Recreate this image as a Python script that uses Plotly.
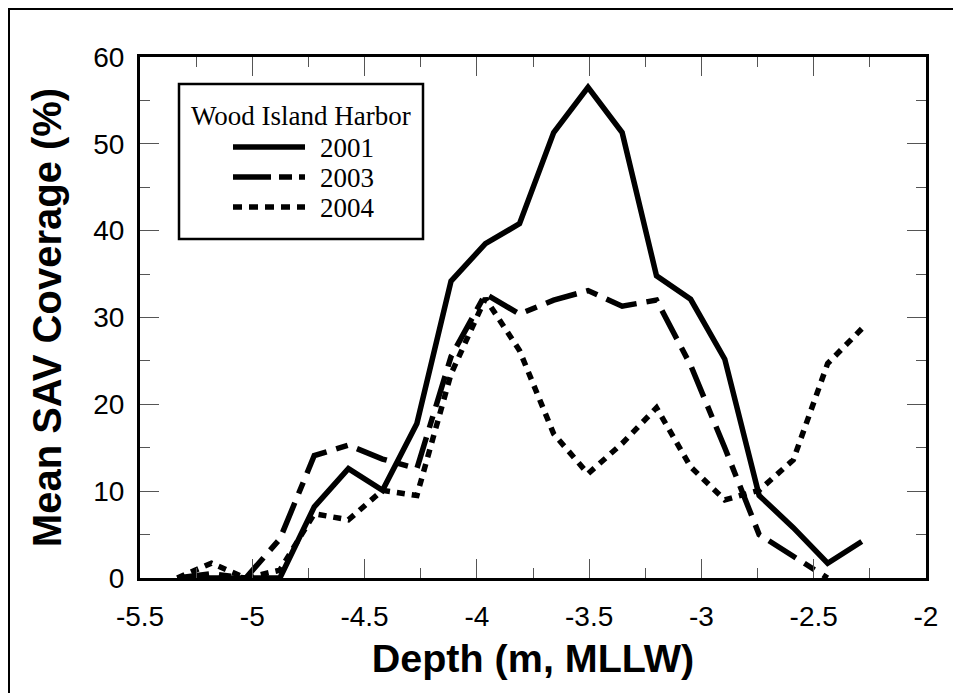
import plotly.graph_objects as go

# Depth (m, MLLW) — half-foot survey bins
depth_m = [-5.334, -5.182, -5.029, -4.877, -4.724, -4.572, -4.420, -4.267, -4.115, -3.962,
           -3.810, -3.658, -3.505, -3.353, -3.200, -3.048, -2.896, -2.743, -2.591, -2.438, -2.286]

# Mean SAV coverage (%)
cov_2001 = [0, 0, 0, 0, 8.2, 12.6, 10.1, 17.8, 34.2, 38.5,
            40.8, 51.3, 56.5, 51.3, 34.8, 32.1, 25.2, 9.5, 5.8, 1.7, 4.2]
cov_2003 = [0, 0.5, 0, 4.5, 14.1, 15.3, 13.7, 12.6, 25.5, 32.7,
            30.4, 32.0, 33.1, 31.3, 32.0, 24.5, 15.0, 5.0, 2.5, 0, None]
cov_2004 = [0, 1.7, 0, 0.9, 7.4, 6.7, 10.1, 9.5, 23.5, 32.2,
            26.2, 16.6, 12.0, 15.5, 19.6, 12.8, 9.0, 10.1, 13.6, 24.7, 28.7]

years = ["2001", "2003", "2004"]
legend_title = "Wood Island Harbor"
x_tickvals = [-5.5, -5, -4.5, -4, -3.5, -3, -2.5, -2]
x_ticktext = ["-5.5", "-5", "-4.5", "-4", "-3.5", "-3", "-2.5", "-2"]
y_tickvals = [0, 10, 20, 30, 40, 50, 60]
y_ticktext = ["0", "10", "20", "30", "40", "50", "60"]

dashes = {"2001": "solid", "2003": "32px,10px,12px,10px", "2004": "8px,7px"}
legend_dashes = {"2001": "solid", "2003": "38px,8px,13px,7px,6px,40px", "2004": "9px,7px"}

fig = go.Figure()
for name, vals in zip(years, [cov_2001, cov_2003, cov_2004]):
    fig.add_trace(go.Scatter(
        x=depth_m, y=vals, mode="lines", name=name, showlegend=False,
        line=dict(color="black", width=5.5, dash=dashes[name]),
    ))

# page has an 8px body margin; size the figure so it fits the 961x693 window
OFF = 8
W, H = 961 - OFF, 693 - OFF
ml, mt, pw, ph = 140 - OFF, 57 - OFF, 786, 521
mr, mb = W - ml - pw, H - mt - ph

def px2paper_x(px):
    return (px - OFF - ml) / pw

def px2paper_y(py):
    return (mt + ph - (py - OFF)) / ph

shapes = []
# outer frame of the figure panel: only its left and top edges fall inside the page
shapes.append(dict(type="line", xref="paper", yref="paper",
                   x0=px2paper_x(OFF + 1), x1=px2paper_x(OFF + 1),
                   y0=px2paper_y(720), y1=px2paper_y(OFF),
                   line=dict(color="black", width=2), layer="above"))
shapes.append(dict(type="line", xref="paper", yref="paper",
                   x0=px2paper_x(OFF), x1=px2paper_x(990),
                   y0=px2paper_y(OFF + 1), y1=px2paper_y(OFF + 1),
                   line=dict(color="black", width=2), layer="above"))
# legend box
shapes.append(dict(type="rect", xref="paper", yref="paper",
                   x0=px2paper_x(179), x1=px2paper_x(423),
                   y0=px2paper_y(239), y1=px2paper_y(84),
                   line=dict(color="black", width=2.5), fillcolor="white", layer="above"))
annotations = [dict(text=legend_title, xref="paper", yref="paper",
                    x=px2paper_x(301), y=px2paper_y(116), xanchor="center", yanchor="middle",
                    showarrow=False, font=dict(family="Liberation Serif", size=27, color="black"))]
row_y = [147, 177, 207]
for name, ry in zip(years, row_y):
    shapes.append(dict(type="line", xref="paper", yref="paper",
                       x0=px2paper_x(233), x1=px2paper_x(305),
                       y0=px2paper_y(ry), y1=px2paper_y(ry),
                       line=dict(color="black", width=5.5, dash=legend_dashes[name]), layer="above"))
    annotations.append(dict(text=name, xref="paper", yref="paper",
                            x=px2paper_x(318), y=px2paper_y(ry + 1), xanchor="left", yanchor="middle",
                            showarrow=False, font=dict(family="Liberation Serif", size=27, color="black")))

axis_common = dict(
    showline=True, linewidth=3, linecolor="black", mirror="allticks",
    ticks="inside", ticklen=19, tickwidth=1, tickcolor="#555",
    showgrid=False, zeroline=False,
    tickfont=dict(family="Liberation Sans", size=28, color="black"),
)

fig.update_layout(
    width=W, height=H,
    margin=dict(l=ml, r=mr, t=mt, b=mb),
    paper_bgcolor="white", plot_bgcolor="white",
    font=dict(family="Liberation Sans", color="black"),
    shapes=shapes, annotations=annotations,
    xaxis=dict(axis_common, range=[-5.5, -2], tickvals=x_tickvals, ticktext=x_ticktext,
               ticklabelstandoff=11,
               minor=dict(dtick=0.25, tick0=-5.5, ticks="inside", ticklen=10, tickwidth=1, tickcolor="#555", showgrid=False),
               title=dict(text="Depth (m, MLLW)", standoff=14,
                          font=dict(family="Liberation Sans", size=39.5, color="black", weight="bold"))),
    yaxis=dict(axis_common, range=[0, 60], tickvals=y_tickvals, ticktext=y_ticktext,
               ticklabelstandoff=7,
               minor=dict(dtick=5, tick0=0, ticks="inside", ticklen=10, tickwidth=1, tickcolor="#555", showgrid=False),
               title=dict(text="Mean SAV Coverage (%)", standoff=20,
                          font=dict(family="Liberation Sans", size=40, color="black", weight="bold"))),
)

fig.write_html("out.html")
